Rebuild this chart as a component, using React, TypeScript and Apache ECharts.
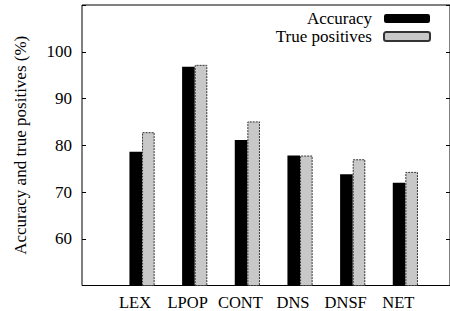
import React, { useEffect, useRef } from "react";
import * as echarts from "echarts";

const categories = ["LEX", "LPOP", "CONT", "DNS", "DNSF", "NET"];
const accuracy = [78.6, 96.8, 81.1, 77.8, 73.8, 72.0];
const truePositives = [82.8, 97.2, 85.1, 77.8, 77.0, 74.3];
const yMin = 50;
const yMax = 110;
const yInterval = 10;

const FONT = "Liberation Serif";

export default function App() {
  const ref = useRef<HTMLDivElement>(null);
  useEffect(() => {
    if (!ref.current) return;
    const chart = echarts.init(ref.current, undefined, { renderer: "svg" });
    const top = 5;
    const bottom = 311 - 285.5;
    chart.setOption({
      animation: false,
      backgroundColor: "#ffffff",
      textStyle: { fontFamily: FONT },
      grid: [
        { left: 82, right: -1, top, bottom, show: true, borderColor: "#000", borderWidth: 1, backgroundColor: "transparent" },
        { left: 115.7, width: 316, top, bottom },
      ],
      legend: {
        orient: "vertical",
        right: 19,
        top: 10,
        padding: 0,
        align: "right",
        itemWidth: 46,
        itemHeight: 9,
        itemGap: 1,
        textStyle: { fontFamily: FONT, fontSize: 17, color: "#000", lineHeight: 16, padding: [0, 7, 0, 0] },
        data: ["Accuracy", "True positives"],
      },
      xAxis: [
        { gridIndex: 0, type: "value", min: 0, max: 1, show: false },
        {
          gridIndex: 1,
          type: "category",
          data: categories,
          axisLine: { show: false },
          axisTick: { show: false },
          axisLabel: { fontFamily: FONT, fontSize: 16.5, color: "#000", margin: 8, interval: 0, padding: [0, 14, 0, 0] },
        },
      ],
      yAxis: [
        {
          gridIndex: 0,
          type: "value",
          min: yMin,
          max: yMax,
          interval: yInterval,
          name: "Accuracy and true positives (%)",
          nameLocation: "middle",
          nameGap: 53,
          nameTextStyle: { fontFamily: FONT, fontSize: 17, color: "#000" },
          axisLine: { show: false },
          axisTick: { show: true, inside: true, length: 4, lineStyle: { color: "#000" } },
          splitLine: { show: false },
          axisLabel: {
            fontFamily: FONT,
            fontSize: 17,
            color: "#000",
            margin: 10,
            formatter: (v: number) => (v === yMin || v === yMax ? "" : String(v)),
          },
        },
        {
          gridIndex: 0,
          type: "value",
          position: "right",
          min: yMin,
          max: yMax,
          interval: yInterval,
          axisLine: { show: false },
          axisTick: { show: true, inside: true, length: 4, lineStyle: { color: "#000" } },
          splitLine: { show: false },
          axisLabel: { show: false },
        },
        { gridIndex: 1, type: "value", min: yMin, max: yMax, interval: yInterval, show: false },
      ],
      series: [
        {
          name: "Accuracy",
          type: "bar",
          xAxisIndex: 1,
          yAxisIndex: 2,
          data: accuracy,
          barWidth: 12.6,
          barGap: "0%",
          itemStyle: { color: "#000" },
        },
        {
          name: "True positives",
          type: "bar",
          xAxisIndex: 1,
          yAxisIndex: 2,
          data: truePositives,
          barWidth: 12.6,
          barGap: "0%",
          itemStyle: { color: "#c8c8c8", borderColor: "#333", borderWidth: 1, borderType: [2, 1] },
        },
      ],
    });
    return () => chart.dispose();
  }, []);
  return <div ref={ref} style={{ position: "fixed", left: 0, top: 0, width: 450, height: 311 }} />;
}
